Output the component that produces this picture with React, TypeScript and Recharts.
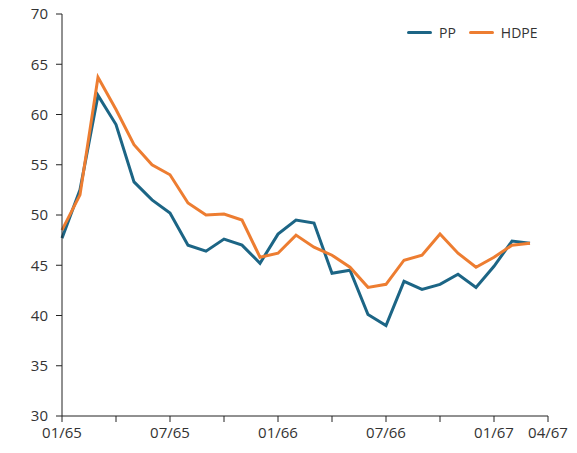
import { LineChart, Line, XAxis, YAxis } from 'recharts';

const months = Array.from({ length: 27 }, (_, i) => i);
const pp = [
  47.7, 52.5, 61.9, 59, 53.3, 51.5, 50.2, 47, 46.4, 47.6, 47, 45.2, 48.1, 49.5,
  49.2, 44.2, 44.5, 40.1, 39, 43.4, 42.6, 43.1, 44.1, 42.8, 44.9, 47.4, 47.2,
];
const hdpe = [
  48.5, 52, 63.7, 60.5, 57, 55, 54, 51.2, 50, 50.1, 49.5, 45.8, 46.2, 48, 46.8,
  46, 44.8, 42.8, 43.1, 45.5, 46, 48.1, 46.2, 44.8, 45.8, 47, 47.2,
];
const xTicks = [0, 3, 6, 9, 12, 15, 18, 21, 24, 27];
const xLabels: Record<number, string> = { 0: '01/65', 6: '07/65', 12: '01/66', 18: '07/66', 24: '01/67', 27: '04/67' };
const yTicks = [30, 35, 40, 45, 50, 55, 60, 65, 70];

const data = months.map((m, i) => ({ m, pp: pp[i], hdpe: hdpe[i] }));

const PP_COLOR = '#1c6585';
const HDPE_COLOR = '#ed7d31';
const FONT = '"Open Sans", "Liberation Sans", sans-serif';

function LegendBox() {
  const items = [
    { label: 'PP', color: PP_COLOR },
    { label: 'HDPE', color: HDPE_COLOR },
  ];
  return (
    <div style={{ position: 'absolute', left: 407, top: 23, display: 'flex', gap: 13, fontFamily: FONT, fontSize: 14, color: '#333' }}>
      {items.map((it) => (
        <div key={it.label} style={{ display: 'flex', alignItems: 'center' }}>
          <span style={{ display: 'inline-block', width: 25, height: 3, background: it.color, borderRadius: 2, marginRight: 7 }} />
          {it.label}
        </div>
      ))}
    </div>
  );
}

export default function App() {
  return (
    <div style={{ position: 'absolute', left: 0, top: 0, width: 577, height: 453, background: '#fff' }}>
      <LineChart width={577} height={453} data={data} margin={{ top: 14, right: 29, bottom: 7, left: 0 }}>
        <XAxis
          dataKey="m"
          type="number"
          domain={[0, 27]}
          ticks={xTicks}
          tickFormatter={(v) => xLabels[v] ?? ''}
          interval={0}
          height={30}
          stroke="#222"
          tickSize={6}
          tickMargin={5}
          tick={{ fontSize: 15, fill: '#333', fontFamily: FONT }}
        />
        <YAxis
          domain={[30, 70]}
          ticks={yTicks}
          interval={0}
          width={62}
          stroke="#222"
          tickSize={6}
          tickMargin={8}
          tick={{ fontSize: 15, fill: '#333', fontFamily: FONT }}
        />
        <Line dataKey="pp" name="PP" stroke={PP_COLOR} strokeWidth={3} dot={false} isAnimationActive={false} />
        <Line dataKey="hdpe" name="HDPE" stroke={HDPE_COLOR} strokeWidth={3} dot={false} isAnimationActive={false} />
      </LineChart>
      <LegendBox />
    </div>
  );
}
